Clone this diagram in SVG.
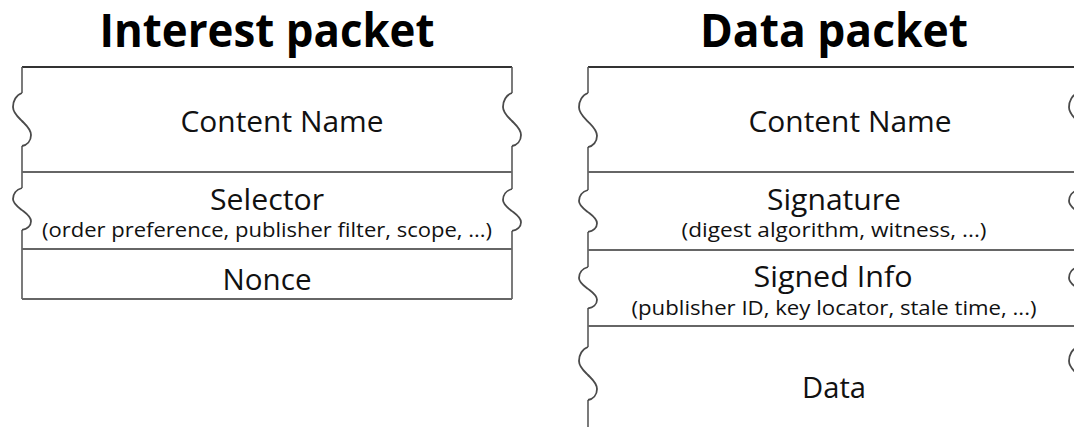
<svg xmlns="http://www.w3.org/2000/svg" xmlns:xlink="http://www.w3.org/1999/xlink" width="1074" height="427" viewBox="0 0 1074 427">
  <style>
    .title { font-family: "Open Sans", "Liberation Sans", sans-serif; font-weight: bold; font-size: 46px; fill: #000; text-anchor: middle; }
    .label { font-family: "Open Sans", "Liberation Sans", sans-serif; font-size: 30px; fill: #111; text-anchor: middle; }
    .sub { font-family: "Open Sans", "Liberation Sans", sans-serif; font-size: 20px; fill: #111; text-anchor: middle; }
    .edge { stroke: #5a5a5a; stroke-width: 1.6; fill: none; }
    .top { stroke: #333; stroke-width: 2.2; fill: none; }
    .sep { stroke: #666; stroke-width: 1.8; fill: none; }
    .wv { stroke: #4a4a4a; stroke-width: 1.8; fill: none; vector-effect: non-scaling-stroke; }
  </style>
  <defs>
    <path id="wave" class="wv" d="M0,0 C-6,2 -9,8 -9,14 C-9,20 -4,24 0,28 C4,32 9,36 9,42 C9,48 5,52 0,53"/>
  </defs>
  <rect x="0" y="0" width="1074" height="427" fill="#fff"/>

  <g id="interest-packet">
    <text class="title" x="267" y="47" textLength="335" lengthAdjust="spacingAndGlyphs">Interest packet</text>
    <g id="interest-frame">
      <line class="top" x1="22" y1="67" x2="512" y2="67"/>
      <path class="edge" d="M22,67 V93 M22,146 V188 M22,230 V299"/>
      <path class="edge" d="M512,67 V93 M512,146 V189 M512,231 V299"/>
      <use xlink:href="#wave" href="#wave" transform="translate(22,93)"/>
      <use xlink:href="#wave" href="#wave" transform="translate(22,188) scale(1,0.79)"/>
      <use xlink:href="#wave" href="#wave" transform="translate(512,93)"/>
      <use xlink:href="#wave" href="#wave" transform="translate(512,189) scale(1,0.79)"/>
    </g>
    <g id="interest-content-name">
      <text class="label" x="282" y="132" textLength="203" lengthAdjust="spacingAndGlyphs">Content Name</text>
    </g>
    <g id="interest-selector">
      <line class="sep" x1="22" y1="172" x2="512" y2="172"/>
      <text class="label" x="267" y="210" textLength="114" lengthAdjust="spacingAndGlyphs">Selector</text>
      <text class="sub" x="267" y="237" textLength="450" lengthAdjust="spacingAndGlyphs">(order preference, publisher filter, scope, ...)</text>
    </g>
    <g id="interest-nonce">
      <line class="sep" x1="22" y1="249" x2="512" y2="249"/>
      <text class="label" x="267" y="290" textLength="89" lengthAdjust="spacingAndGlyphs">Nonce</text>
      <line class="sep" x1="22" y1="299" x2="512" y2="299"/>
    </g>
  </g>

  <g id="data-packet">
    <text class="title" x="834" y="47" textLength="268" lengthAdjust="spacingAndGlyphs">Data packet</text>
    <g id="data-frame">
      <line class="top" x1="588" y1="67" x2="1074" y2="67"/>
      <path class="edge" d="M588,67 V93 M588,147 V190 M588,232 V267 M588,308 V347 M588,400 V427"/>
      <path class="edge" d="M1078,67 V93 M1078,147 V190 M1078,232 V267 M1078,308 V347 M1078,400 V427"/>
      <use xlink:href="#wave" href="#wave" transform="translate(588,93) scale(1,1.02)"/>
      <use xlink:href="#wave" href="#wave" transform="translate(588,190) scale(1,0.79)"/>
      <use xlink:href="#wave" href="#wave" transform="translate(588,267) scale(1,0.78)"/>
      <use xlink:href="#wave" href="#wave" transform="translate(588,347)"/>
      <use xlink:href="#wave" href="#wave" transform="translate(1078,93) scale(1,1.02)"/>
      <use xlink:href="#wave" href="#wave" transform="translate(1078,190) scale(1,0.79)"/>
      <use xlink:href="#wave" href="#wave" transform="translate(1078,267) scale(1,0.78)"/>
      <use xlink:href="#wave" href="#wave" transform="translate(1078,347)"/>
    </g>
    <g id="data-content-name">
      <text class="label" x="850" y="132" textLength="203" lengthAdjust="spacingAndGlyphs">Content Name</text>
    </g>
    <g id="data-signature">
      <line class="sep" x1="588" y1="172" x2="1074" y2="172"/>
      <text class="label" x="834" y="210" textLength="134" lengthAdjust="spacingAndGlyphs">Signature</text>
      <text class="sub" x="834" y="237" textLength="305" lengthAdjust="spacingAndGlyphs">(digest algorithm, witness, ...)</text>
    </g>
    <g id="data-signed-info">
      <line class="sep" x1="588" y1="250" x2="1074" y2="250"/>
      <text class="label" x="833" y="287" textLength="159" lengthAdjust="spacingAndGlyphs">Signed Info</text>
      <text class="sub" x="834" y="315" textLength="405" lengthAdjust="spacingAndGlyphs">(publisher ID, key locator, stale time, ...)</text>
    </g>
    <g id="data-data">
      <line class="sep" x1="588" y1="326" x2="1074" y2="326"/>
      <text class="label" x="834" y="398" textLength="64" lengthAdjust="spacingAndGlyphs">Data</text>
    </g>
  </g>
</svg>
